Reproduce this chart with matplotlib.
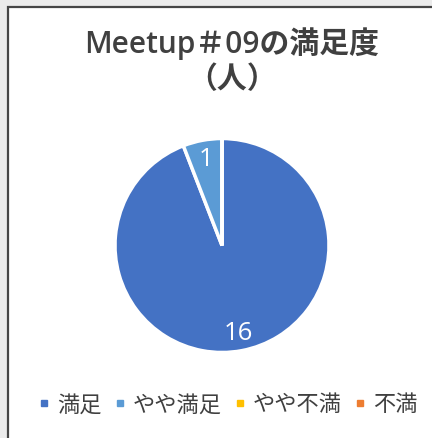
import matplotlib
matplotlib.use("Agg")
import matplotlib.pyplot as plt
from matplotlib.patches import Rectangle
from matplotlib.lines import Line2D
import numpy as np

plt.rcParams['font.family'] = ['Open Sans', 'Noto Sans CJK JP', 'DejaVu Sans']

title_line1 = "Meetup＃09の満足度"
title_line2 = "（人）"
categories = ["満足", "やや満足", "やや不満", "不満"]
values = [16, 1, 0, 0]
colors = ["#4472C4", "#5B9BD5", "#FFC000", "#ED7D31"]

W, H = 432, 439
fig = plt.figure(figsize=(W / 100, H / 100), dpi=100, facecolor="#ebebeb")

# chart area frame
fig.patches.append(Rectangle((7.5 / W, -0.1), 1.2, 1 - 7.5 / H + 0.1,
                             transform=fig.transFigure, facecolor="white",
                             edgecolor="#454545", linewidth=1.6, zorder=-5))

cx, cy, r = 222, 246.5, 107
ax = fig.add_axes([(cx - r) / W, (H - cy - r) / H, 2 * r / W, 2 * r / H], zorder=2)
ax.pie(values, colors=colors, startangle=90, counterclock=False, radius=1,
       wedgeprops=dict(edgecolor="white", linewidth=2.5), frame=False)
total = sum(values)
ang = 90.0
for v in values:
    span = 360.0 * v / total
    if v > 0:
        mid = np.deg2rad(ang - span / 2)
        ax.text(0.83 * np.cos(mid), 0.83 * np.sin(mid), str(v), ha="center", va="center",
                color="white", fontsize=18.5)
    ang -= span
ax.set_xlim(-1, 1)
ax.set_ylim(-1, 1)
ax.set_aspect("equal")
ax.axis("off")

fig.text(232 / W, 1 - 44 / H, title_line1, ha="center", va="center",
         fontsize=21.5, color="#404040", fontweight="semibold")
fig.text(232 / W, 1 - 80 / H, title_line2, ha="center", va="center",
         fontsize=21.5, color="#404040", fontweight="semibold")

handles = [Line2D([], [], marker="s", linestyle="none", markersize=4.5,
                  markerfacecolor=c, markeredgecolor=c) for c in colors]
fig.legend(handles, categories, loc="center", bbox_to_anchor=(228 / W, 1 - 406 / H),
           ncol=4, frameon=False, fontsize=16, handlelength=0.5, handletextpad=0.3,
           columnspacing=0.6, labelcolor="#404040", borderpad=0)

fig.savefig("out.png", dpi=100, facecolor=fig.get_facecolor())
